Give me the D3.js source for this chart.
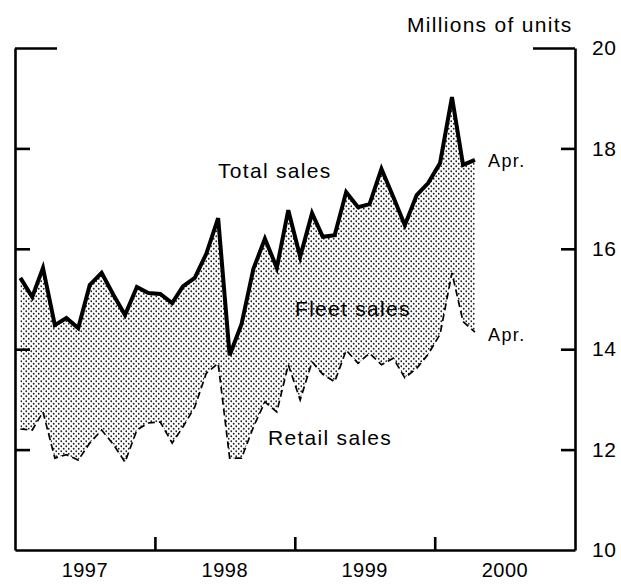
<!DOCTYPE html>
<html><head><meta charset="utf-8">
<script src="https://cdn.jsdelivr.net/npm/d3@7"></script>
<style>
body{margin:0;background:#fff}
text{font-family:"Liberation Sans",Arial,Helvetica,sans-serif;fill:#000}
</style>
</head><body>
<svg id="chart" width="621" height="584"></svg>
<script>
// Monthly data, Jan 1997 - Apr 2000 (millions of units, annual rate)
const startMonth = "1997-01";
const endMonth = "2000-04";
const totalSales = [15.42, 15.04, 15.62, 14.48, 14.62, 14.42, 15.28, 15.52, 15.08, 14.68, 15.24, 15.12,
                    15.10, 14.92, 15.25, 15.42, 15.90, 16.61, 13.88, 14.50, 15.60, 16.20, 15.62, 16.77,
                    15.84, 16.71, 16.24, 16.27, 17.13, 16.83, 16.89, 17.59, 17.03, 16.47, 17.07, 17.31,
                    17.71, 19.02, 17.67, 17.77];
const retailSales = [12.41, 12.39, 12.75, 11.83, 11.90, 11.79, 12.13, 12.39, 12.10, 11.75, 12.39, 12.53,
                     12.55, 12.13, 12.45, 12.85, 13.52, 13.72, 11.83, 11.83, 12.45, 12.95, 12.75, 13.69,
                     12.99, 13.75, 13.50, 13.35, 13.98, 13.72, 13.92, 13.69, 13.82, 13.43, 13.62, 13.90,
                     14.30, 15.52, 14.55, 14.34];
const yearLabels = ["1997", "1998", "1999", "2000"];
const yearBoundaries = ["1998", "1999", "2000"];
const yTicks = [10, 12, 14, 16, 18, 20];
const yDomain = [10, 20];
const unitsLabel = "Millions of units";
const seriesLabels = {total: "Total sales", fleet: "Fleet sales", retail: "Retail sales", last: "Apr."};

const parseM = d3.timeParse("%Y-%m");
const parseY = d3.timeParse("%Y");
const months = d3.timeMonth.range(parseM(startMonth), d3.timeMonth.offset(parseM(endMonth), 1));
const data = months.map((m, i) => ({date: d3.timeDay.offset(m, 14), total: totalSales[i], retail: retailSales[i]}));

const svg = d3.select("#chart");
const x = d3.scaleTime().domain([parseY("1997"), parseY("2001")]).range([15, 575]);
const y = d3.scaleLinear().domain(yDomain).range([550, 48]);

const defs = svg.append("defs");
const pat = defs.append("pattern").attr("id", "dots").attr("patternUnits", "userSpaceOnUse")
  .attr("width", 5).attr("height", 5);
pat.append("rect").attr("width", 5).attr("height", 5).attr("fill", "#fff");
pat.append("circle").attr("cx", 1.25).attr("cy", 1.25).attr("r", 0.9).attr("fill", "#222");
pat.append("circle").attr("cx", 3.75).attr("cy", 3.75).attr("r", 0.9).attr("fill", "#222");

// Fleet area between retail and total
svg.append("path").datum(data)
  .attr("d", d3.area().x(d => x(d.date)).y0(d => y(d.retail)).y1(d => y(d.total)))
  .attr("fill", "url(#dots)");

// Retail (dashed)
svg.append("path").datum(data)
  .attr("d", d3.line().x(d => x(d.date)).y(d => y(d.retail)))
  .attr("fill", "none").attr("stroke", "#000").attr("stroke-width", 1.7)
  .attr("stroke-dasharray", "7,4");

// Total (thick)
svg.append("path").datum(data)
  .attr("d", d3.line().x(d => x(d.date)).y(d => y(d.total)))
  .attr("fill", "none").attr("stroke", "#000").attr("stroke-width", 4)
  .attr("stroke-linejoin", "miter");

// Axes
const axisStyle = g => {
  g.select(".domain").attr("stroke-width", 2.6).attr("stroke", "#000");
  g.selectAll(".tick line").attr("stroke-width", 2.6).attr("stroke", "#000");
};

const rightAxis = svg.append("g").attr("transform", "translate(575,0)")
  .call(d3.axisRight(y).tickValues(yTicks).tickSizeInner(-14).tickSizeOuter(0).tickPadding(17));
rightAxis.call(axisStyle);
rightAxis.selectAll(".tick text").attr("font-size", 21).style("font-family", "'Liberation Sans',Arial,sans-serif").attr("letter-spacing", 0.5);
rightAxis.selectAll(".tick").filter(d => d === 20).select("line").attr("x2", -42);
rightAxis.selectAll(".tick").filter(d => d === 10).select("line").remove();

const leftAxis = svg.append("g").attr("transform", "translate(15,0)")
  .call(d3.axisLeft(y).tickValues(yTicks).tickSizeInner(-15).tickSizeOuter(0).tickFormat(""));
leftAxis.call(axisStyle);
leftAxis.selectAll(".tick").filter(d => d === 20).select("line").attr("x2", 42);
leftAxis.selectAll(".tick").filter(d => d === 10).select("line").remove();

const bottomAxis = svg.append("g").attr("transform", "translate(0,550)")
  .call(d3.axisBottom(x).tickValues(yearBoundaries.map(parseY)).tickSizeInner(-13).tickSizeOuter(0).tickFormat(""));
bottomAxis.call(axisStyle);

const yearAxis = svg.append("g").attr("transform", "translate(0,550)")
  .call(d3.axisBottom(x).tickValues(yearLabels.map(s => d3.timeMonth.offset(parseY(s), 6)))
    .tickSize(0).tickPadding(13).tickFormat(d3.timeFormat("%Y")));
yearAxis.select(".domain").remove();
yearAxis.selectAll(".tick text").attr("font-size", 20).style("font-family", "'Liberation Sans',Arial,sans-serif").attr("letter-spacing", 0.5);

// Labels
const lab = (t, px, py, fs, ls) => svg.append("text").attr("x", px).attr("y", py)
  .attr("font-size", fs).attr("letter-spacing", ls).text(t);
lab(unitsLabel, 407, 32, 21, 1.3);
lab(seriesLabels.total, 218, 178, 21, 1.3);
lab(seriesLabels.fleet, 295, 316, 21, 1.3);
lab(seriesLabels.retail, 268, 445, 21, 1.3);
lab(seriesLabels.last, 488, 167, 18, 1.4);
lab(seriesLabels.last, 488, 341, 18, 1.4);
</script>
</body></html>
